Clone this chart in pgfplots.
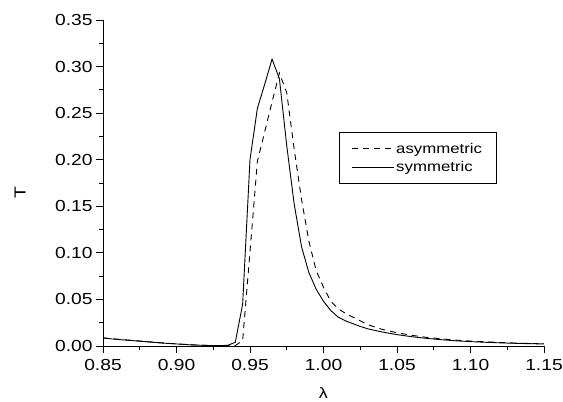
\documentclass[border=0pt]{standalone}
\usepackage{fontspec}
\setmainfont{Liberation Sans}[FakeStretch=1.2]
\usepackage{pgfplots}
\pgfplotsset{compat=1.18}
\pgfplotsset{
  legend image code/.code={\draw[#1] (0pt,0pt) -- (42pt,0pt);},
}
\pgfplotstableread{
x y
0.85 0.0085
0.86 0.0070
0.87 0.0058
0.88 0.0045
0.89 0.0032
0.90 0.0022
0.91 0.0012
0.92 0.0006
0.93 0.0004
0.935 0.0008
0.94 0.0040
0.945 0.0450
0.95 0.2000
0.955 0.2550
0.96 0.2810
0.965 0.3080
0.97 0.2870
0.975 0.2150
0.98 0.1530
0.985 0.1070
0.99 0.0790
0.995 0.0610
1.00 0.0480
1.005 0.0380
1.01 0.0310
1.015 0.0270
1.02 0.0240
1.025 0.0210
1.03 0.0185
1.04 0.0150
1.05 0.0122
1.06 0.0100
1.07 0.0082
1.08 0.0068
1.09 0.0056
1.10 0.0047
1.11 0.0040
1.12 0.0034
1.13 0.0029
1.14 0.0025
1.15 0.0022
}\symtab
\pgfplotstableread{
x y
0.85 0.0088
0.86 0.0073
0.87 0.0060
0.88 0.0047
0.89 0.0034
0.90 0.0023
0.91 0.0013
0.92 0.0007
0.93 0.0004
0.94 0.0004
0.945 0.0060
0.95 0.1010
0.955 0.1980
0.96 0.2300
0.965 0.2620
0.97 0.2930
0.975 0.2720
0.98 0.2120
0.985 0.1580
0.99 0.1130
0.995 0.0810
1.00 0.0630
1.005 0.0480
1.01 0.0400
1.015 0.0350
1.02 0.0310
1.025 0.0270
1.03 0.0230
1.04 0.0178
1.05 0.0142
1.06 0.0115
1.07 0.0093
1.08 0.0077
1.09 0.0063
1.10 0.0053
1.11 0.0045
1.12 0.0038
1.13 0.0032
1.14 0.0028
1.15 0.0024
}\asymtab
\begin{document}
\begin{tikzpicture}
\path[use as bounding box] (0,0) rectangle (563pt,402pt);
\begin{axis}[
  at={(103pt,56pt)}, anchor=south west, scale only axis,
  width=441pt, height=326pt,
  xmin=0.85, xmax=1.15, ymin=0, ymax=0.35,
  axis x line*=bottom, axis y line*=left,
  axis line style={line width=0.9pt, -},
  xtick={0.85,0.90,0.95,1.00,1.05,1.10,1.15},
  ytick={0,0.05,0.10,0.15,0.20,0.25,0.30,0.35},
  minor x tick num=1, minor y tick num=1,
  tick align=outside,
  major tick length=7pt, minor tick length=4pt,
  tick style={line width=0.9pt, black},
  /pgf/number format/.cd, fixed, fixed zerofill, precision=2, assume math mode=true,
  /pgfplots/.cd,
  tick label style={font=\fontsize{16}{18}\selectfont},
  xticklabel style={yshift=-3pt},
  xlabel={λ}, ylabel={T},
  xlabel style={font=\fontsize{15}{18}\selectfont, at={(axis description cs:0.5,-0.145)}, anchor=center},
  ylabel style={font=\fontsize{16}{18}\selectfont, at={(axis description cs:-0.188,0.469)}, anchor=center, rotate=0},
  legend style={at={(0.535,0.656)}, anchor=north west, draw=black, line width=0.8pt,
    font=\fontsize{14}{16}\selectfont, inner xsep=12pt, inner ysep=7pt,
    nodes={inner ysep=3.5pt}},
  legend cell align=left,
]
\addplot[black, line width=0.9pt, dash pattern=on 6pt off 5pt] table[x=x,y=y] {\asymtab};
\addlegendentry{asymmetric}
\addplot[black, line width=0.9pt] table[x=x,y=y] {\symtab};
\addlegendentry{symmetric}
\end{axis}
\end{tikzpicture}
\end{document}
